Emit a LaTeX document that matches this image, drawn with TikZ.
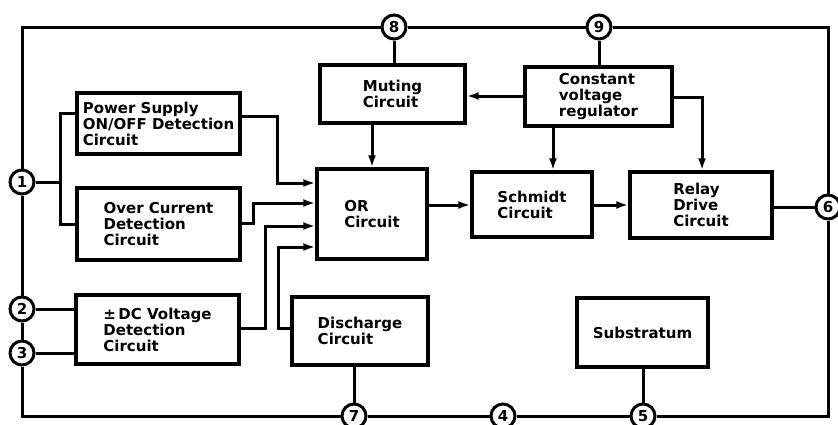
\documentclass[tikz,border=0pt]{standalone}
\usepackage{fontspec}
\setmainfont{DejaVu Sans}
\usetikzlibrary{arrows.meta}
\begin{document}
\begin{tikzpicture}[x=1pt,y=-1pt,
  box/.style={draw,line width=3.4pt,rectangle,inner sep=0pt,align=left,
    font=\bfseries\fontsize{15}{16}\selectfont},
  pin/.style={draw,circle,fill=white,line width=3pt,minimum size=24pt,inner sep=0pt,
    font=\bfseries\fontsize{15}{15}\selectfont},
  wire/.style={line width=3pt},
  arr/.style={wire,-{Latex[length=12pt,width=8pt]}}]
\useasboundingbox (0,0) rectangle (838,424);

% blocks
\node[box,minimum width=163pt,minimum height=61pt] (ps) at (158.5,123.5) {Power Supply\\ON/OFF Detection\\Circuit};
\node[box,minimum width=163pt,minimum height=72pt] (oc) at (158.5,224) {Over Current\\Detection\\Circuit};
\node[box,minimum width=163pt,minimum height=69pt] (dc) at (157.5,329.5) {±\,DC Voltage\\Detection\\Circuit};
\node[box,minimum width=145pt,minimum height=58pt] (mut) at (392.5,94) {Muting\\Circuit};
\node[box,minimum width=147pt,minimum height=59pt] (cvr) at (598.5,96.5) {Constant\\voltage\\regulator};
\node[box,minimum width=110pt,minimum height=90pt] (orc) at (372,214) {OR\\Circuit};
\node[box,minimum width=120pt,minimum height=65pt] (sch) at (532,204.5) {Schmidt\\Circuit};
\node[box,minimum width=142pt,minimum height=66pt] (rel) at (701,205) {Relay\\Drive\\Circuit};
\node[box,minimum width=136pt,minimum height=68pt] (dis) at (360,331) {Discharge\\Circuit};
\node[box,minimum width=131pt,minimum height=69pt] (sub) at (642.5,332.5) {Substratum};

% pins
\node[pin] (p1) at (22,182) {1};
\node[pin] (p2) at (22,309) {2};
\node[pin] (p3) at (22,353) {3};
\node[pin] (p8) at (394,27) {8};
\node[pin] (p9) at (599,27) {9};
\node[pin] (p6) at (828,207) {6};
\node[pin] (p7) at (354,416) {7};
\node[pin] (p4) at (503,416) {4};
\node[pin] (p5) at (643,416) {5};

% frame
\coordinate (tl) at (22,27);
\coordinate (tr) at (828,27);
\coordinate (br) at (828,416);
\coordinate (bl) at (22,416);
\draw[wire] (p1) -- (tl) -- (p8);
\draw[wire] (p8) -- (p9);
\draw[wire] (p9) -- (tr) -- (p6);
\draw[wire] (p6) -- (br) -- (p5);
\draw[wire] (p5) -- (p4);
\draw[wire] (p4) -- (p7);
\draw[wire] (p7) -- (bl) -- (p3);
\draw[wire] (p1) -- (p2);
\draw[wire] (p2) -- (p3);

% pin 1 branch
\coordinate (j1) at (60,182);
\draw[wire] (p1) -- (j1);
\draw[wire] (ps.west |- 0,113) -| (j1) |- (oc.west);

% pins 2,3
\draw[wire] (p2) -- (dc.west |- p2);
\draw[wire] (p3) -- (dc.west |- p3);

% pins 8,9
\draw[wire] (p8) -- (mut.north -| p8);
\draw[wire] (p9) -- (cvr.north -| p9);

% inputs to OR
\draw[arr] (ps.east |- 0,116) -- (277,116) |- (orc.west |- 0,183);
\draw[arr] (oc.east |- 0,223) -- (253,223) |- (orc.west |- 0,203);
\draw[arr] (dc.east |- 0,328) -- (265,328) |- (orc.west |- 0,226);
\draw[arr] (dis.west |- 0,328) -- (278,328) |- (orc.west |- 0,247);
\draw[arr] (mut.south -| orc.north) -- (orc.north);

% regulator outputs
\draw[arr] (cvr.west |- 0,96) -- (mut.east |- 0,96);
\draw[arr] (cvr.south -| 553,0) -- (sch.north -| 553,0);
\draw[arr] (cvr.east |- 0,97) -- (702,97) -- (rel.north -| 702,0);

% chain
\draw[arr] (orc.east |- 0,205) -- (sch.west |- 0,205);
\draw[arr] (sch.east |- 0,205) -- (rel.west |- 0,205);
\draw[wire] (rel.east |- p6) -- (p6);

% bottom pins
\draw[wire] (dis.south -| p7) -- (p7);
\draw[wire] (sub.south -| p5) -- (p5);
\end{tikzpicture}
\end{document}
